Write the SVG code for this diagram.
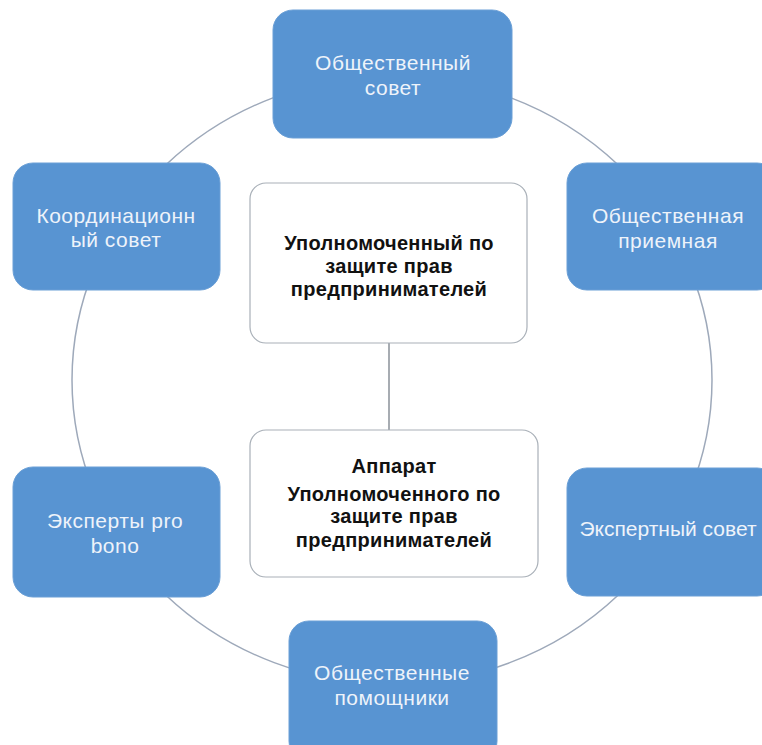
<svg xmlns="http://www.w3.org/2000/svg" width="762" height="745" viewBox="0 0 762 745">
<style>
.blue{fill:#5894d2;stroke:#6a9fd6;stroke-width:1}
.white{fill:#ffffff;stroke:#a9b0b8;stroke-width:1.2}
.bt{font-family:"Liberation Sans",Arial,sans-serif;font-size:21px;letter-spacing:0.5px;fill:#eef3fa;text-anchor:middle}
.wt{font-family:"Liberation Sans",Arial,sans-serif;font-size:20px;letter-spacing:0.3px;font-weight:bold;fill:#111111;text-anchor:middle}
.conn{fill:none;stroke:#9ea9ba;stroke-width:1.5}
</style>
<rect width="762" height="745" fill="#ffffff"/>
<g id="connectors">
<ellipse class="conn" cx="392" cy="380" rx="320" ry="304"/>
<line x1="389" y1="343" x2="389" y2="430" stroke="#8a9098" stroke-width="1.5"/>
</g>
<g id="node-obshchestvenny-sovet">
<rect class="blue" x="273" y="10" width="239" height="128" rx="20"/>
<text class="bt" x="393" y="70">Общественный</text>
<text class="bt" x="393" y="95">совет</text>
</g>
<g id="node-koordinatsionny-sovet">
<rect class="blue" x="13" y="163" width="207" height="127" rx="20"/>
<text class="bt" x="116" y="223">Координационн</text>
<text class="bt" x="116" y="247">ый совет</text>
</g>
<g id="node-obshchestvennaya-priemnaya">
<rect class="blue" x="567" y="163" width="210" height="127" rx="20"/>
<text class="bt" x="668" y="223">Общественная</text>
<text class="bt" x="668" y="248">приемная</text>
</g>
<g id="node-eksperty-pro-bono">
<rect class="blue" x="13" y="467" width="207" height="130" rx="20"/>
<text class="bt" x="115" y="528">Эксперты pro</text>
<text class="bt" x="115" y="553">bono</text>
</g>
<g id="node-ekspertny-sovet">
<rect class="blue" x="567" y="468" width="210" height="128" rx="20"/>
<text class="bt" x="668" y="536" style="letter-spacing:0">Экспертный совет</text>
</g>
<g id="node-obshchestvennye-pomoshchniki">
<rect class="blue" x="289" y="621" width="208" height="140" rx="20"/>
<text class="bt" x="392" y="680">Общественные</text>
<text class="bt" x="392" y="705">помощники</text>
</g>
<g id="node-upolnomochenny">
<rect class="white" x="250" y="183" width="277" height="160" rx="16"/>
<text class="wt" x="389" y="250">Уполномоченный по</text>
<text class="wt" x="389" y="273">защите прав</text>
<text class="wt" x="389" y="296">предпринимателей</text>
</g>
<g id="node-apparat">
<rect class="white" x="250" y="430" width="288" height="147" rx="16"/>
<text class="wt" x="394" y="473">Аппарат</text>
<text class="wt" x="394" y="501">Уполномоченного по</text>
<text class="wt" x="394" y="523">защите прав</text>
<text class="wt" x="394" y="547">предпринимателей</text>
</g>
</svg>
